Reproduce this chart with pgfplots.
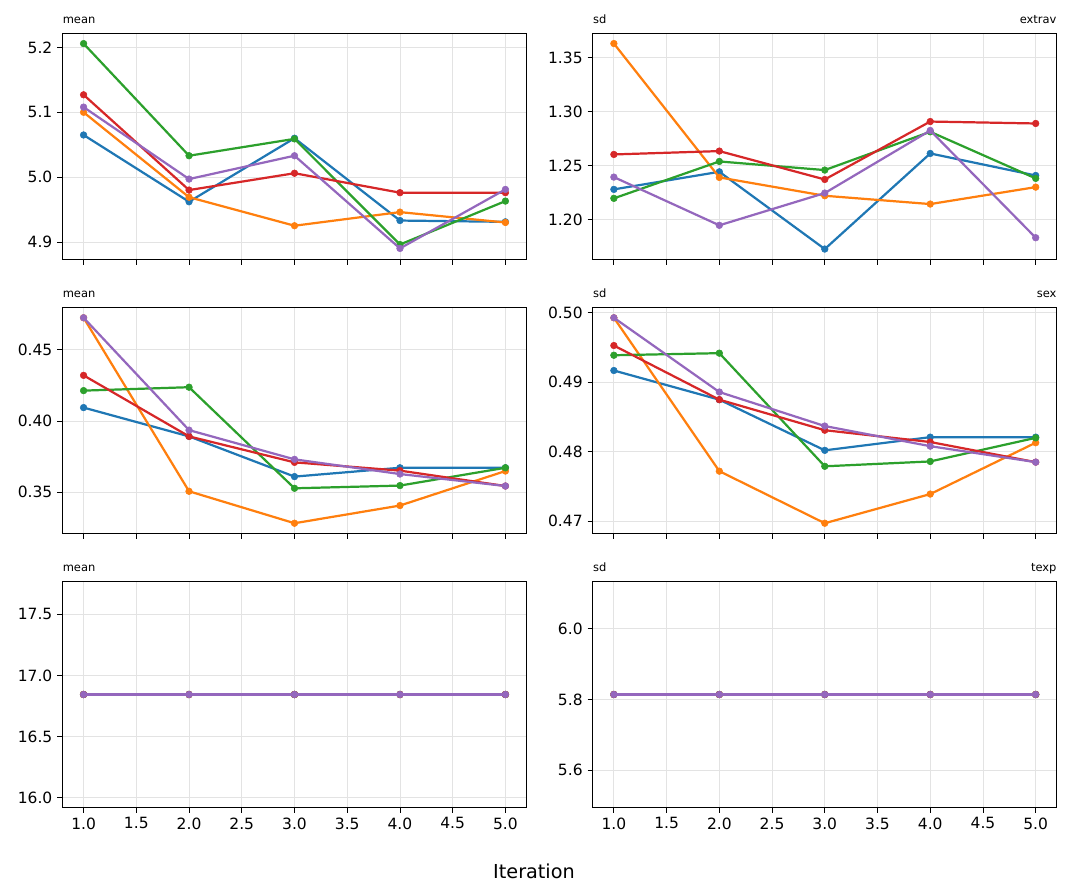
\documentclass[border=0pt]{standalone}
\usepackage{fontspec}
\setmainfont{DejaVu Sans}
\usepackage{pgfplots}
\usepackage{pgfplotstable}
\pgfplotsset{compat=1.18}
\definecolor{tbBlue}{HTML}{1F77B4}
\definecolor{tbOrange}{HTML}{FF7F0E}
\definecolor{tbGreen}{HTML}{2CA02C}
\definecolor{tbRed}{HTML}{D62728}
\definecolor{tbPurple}{HTML}{9467BD}

\pgfplotstableread{
it b o g r p
1 5.065 5.100 5.206 5.127 5.108
2 4.962 4.969 5.033 4.980 4.997
3 5.060 4.925 5.059 5.006 5.033
4 4.933 4.946 4.896 4.976 4.890
5 4.931 4.930 4.963 4.976 4.981
}\meanextrav
\pgfplotstableread{
it b o g r p
1 1.2281 1.3633 1.2198 1.2605 1.2395
2 1.2444 1.2392 1.2540 1.2636 1.1948
3 1.1728 1.2222 1.2460 1.2373 1.2247
4 1.2614 1.2145 1.2815 1.2910 1.2827
5 1.2410 1.2302 1.2383 1.2892 1.1833
}\sdextrav
\pgfplotstableread{
it b o g r p
1 0.4094 0.4724 0.4213 0.4320 0.4724
2 0.3892 0.3507 0.4237 0.3892 0.3936
3 0.3610 0.3283 0.3528 0.3710 0.3731
4 0.3672 0.3407 0.3547 0.3652 0.3628
5 0.3672 0.3649 0.3672 0.3544 0.3544
}\meansex
\pgfplotstableread{
it b o g r p
1 0.4917 0.4993 0.4939 0.4953 0.4993
2 0.4875 0.4772 0.4942 0.4875 0.4886
3 0.4802 0.4697 0.4779 0.4831 0.4837
4 0.4821 0.4739 0.4786 0.4814 0.4808
5 0.4821 0.4813 0.4820 0.4785 0.4785
}\sdsex
\pgfplotstableread{
it b o g r p
1 16.844 16.844 16.844 16.844 16.844
2 16.844 16.844 16.844 16.844 16.844
3 16.844 16.844 16.844 16.844 16.844
4 16.844 16.844 16.844 16.844 16.844
5 16.844 16.844 16.844 16.844 16.844
}\meantexp
\pgfplotstableread{
it b o g r p
1 5.814 5.814 5.814 5.814 5.814
2 5.814 5.814 5.814 5.814 5.814
3 5.814 5.814 5.814 5.814 5.814
4 5.814 5.814 5.814 5.814 5.814
5 5.814 5.814 5.814 5.814 5.814
}\sdtexp

\pgfplotsset{
  panel/.style={
    scale only axis, width=334.08bp, height=162.72bp,
    anchor=south west, clip mode=individual,
    xmin=0.8, xmax=5.2, xtick={1,1.5,2,2.5,3,3.5,4,4.5,5},
    axis line style={line width=0.6bp},
    every tick/.style={black, line width=0.6bp},
    tick align=outside, major tick length=3.8bp,
    xtick pos=bottom, ytick pos=left,
    grid=major, major grid style={line width=0.6bp, black!11},
    ticklabel style={font=\fontsize{11.2}{13}\selectfont},
    /pgf/number format/assume math mode=true,
    xticklabel style={/pgf/number format/.cd, fixed, fixed zerofill, precision=1},
    cycle list={
      {tbBlue, mark=*, mark options={fill=tbBlue, line width=0.4bp}},
      {tbOrange, mark=*, mark options={fill=tbOrange, line width=0.4bp}},
      {tbGreen, mark=*, mark options={fill=tbGreen, line width=0.4bp}},
      {tbRed, mark=*, mark options={fill=tbRed, line width=0.4bp}},
      {tbPurple, mark=*, mark options={fill=tbPurple, line width=0.4bp}}
    },
    every axis plot/.append style={line width=1.6bp, mark size=2.4bp},
  },
  yprec/.style={yticklabel style={/pgf/number format/.cd, fixed, fixed zerofill, precision=#1}},
  nox/.style={xticklabels={}},
}
\newcommand{\lt}[1]{\node[anchor=base west, inner sep=0pt, font=\fontsize{8.3}{10}\selectfont, yshift=7.2bp] at (rel axis cs:0,1) {#1};}
\newcommand{\rt}[1]{\node[anchor=base east, inner sep=0pt, font=\fontsize{8.3}{10}\selectfont, yshift=7.2bp] at (rel axis cs:1,1) {#1};}
\newcommand{\five}[1]{%
  \addplot table[x=it,y=b]{#1};
  \addplot table[x=it,y=o]{#1};
  \addplot table[x=it,y=g]{#1};
  \addplot table[x=it,y=r]{#1};
  \addplot table[x=it,y=p]{#1};
}

\begin{document}
\begin{tikzpicture}
\useasboundingbox (0,0) rectangle (768.96bp,644.4bp);

\begin{axis}[panel, nox, at={(45bp,457.7bp)}, ymin=4.8732, ymax=5.2219,
  ytick={4.9,5.0,5.1,5.2}, yprec=1]
\five{\meanextrav}
\lt{mean}
\end{axis}

\begin{axis}[panel, nox, at={(426.8bp,457.7bp)}, ymin=1.1633, ymax=1.3728,
  ytick={1.20,1.25,1.30,1.35}, yprec=2]
\five{\sdextrav}
\lt{sd}\rt{extrav}
\end{axis}

\begin{axis}[panel, nox, at={(45bp,260.28bp)}, ymin=0.3211, ymax=0.4796,
  ytick={0.35,0.40,0.45}, yprec=2]
\five{\meansex}
\lt{mean}
\end{axis}

\begin{axis}[panel, nox, at={(426.8bp,260.28bp)}, ymin=0.46822, ymax=0.50078,
  ytick={0.47,0.48,0.49,0.50}, yprec=2]
\five{\sdsex}
\lt{sd}\rt{sex}
\end{axis}

\begin{axis}[panel, at={(45bp,63bp)}, ymin=15.918, ymax=17.770,
  ytick={16.0,16.5,17.0,17.5}, yprec=1]
\five{\meantexp}
\lt{mean}
\end{axis}

\begin{axis}[panel, at={(426.8bp,63bp)}, ymin=5.494, ymax=6.134,
  ytick={5.6,5.8,6.0}, yprec=1]
\five{\sdtexp}
\lt{sd}\rt{texp}
\end{axis}

\node[anchor=base, inner sep=0pt, font=\fontsize{13.9}{16}\selectfont] at (384.48bp,12.24bp) {Iteration};
\end{tikzpicture}
\end{document}
